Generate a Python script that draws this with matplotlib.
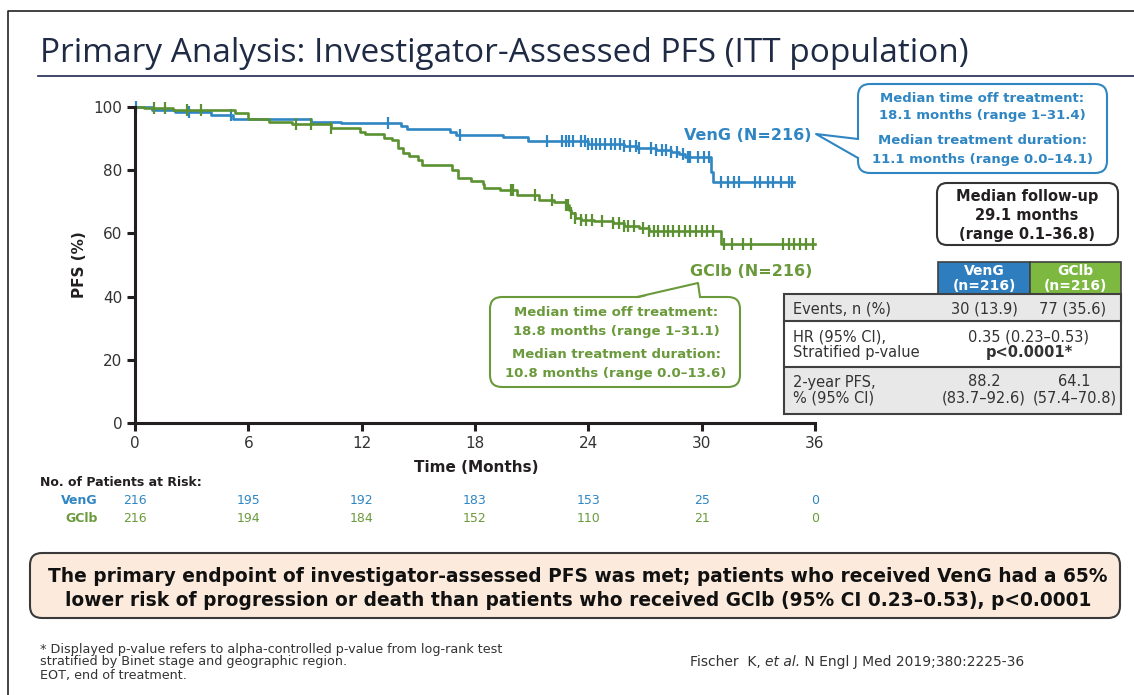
import numpy as np
import matplotlib.pyplot as plt
from matplotlib.patches import FancyBboxPatch, Rectangle, Polygon
from matplotlib.transforms import blended_transform_factory

plt.rcParams['font.family'] = ['DejaVu Sans']

W, H = 1134, 695

# --- KM steps (months, PFS %) ---
veng_t = [0, 0.9, 2.1, 4.0, 5.2, 9.3, 10.9, 14.1, 14.4, 16.7, 17.0, 19.5, 20.8,
          24.0, 25.9, 26.6, 27.6, 28.4, 28.8, 29.1, 30.5, 30.6]
veng_s = [100, 98.9, 98.2, 97.3, 96.1, 95.2, 94.7, 94.0, 92.9, 92.1, 91.0, 90.3, 89.2,
          88.1, 87.6, 87.0, 86.4, 85.8, 85.0, 84.2, 79.4, 76.1]
veng_end = 34.9
veng_cens = [0.05, 2.85, 5.1, 13.4, 17.2, 21.8, 22.6, 22.8, 23.0, 23.2, 23.6, 23.8,
             24.0, 24.2, 24.4, 24.6, 24.9, 25.2, 25.4, 25.7, 25.9, 26.2, 26.5, 26.7,
             27.3, 27.6, 27.9, 28.1, 28.4, 28.7, 29.0, 29.3, 29.4, 29.8, 30.1, 30.4,
             31.0, 31.4, 31.7, 32.0, 32.8, 33.1, 33.5, 33.8, 34.2, 34.6, 34.8]

gclb_t = [0, 0.5, 2.0, 5.3, 6.0, 7.1, 8.3, 10.4, 11.9, 12.2, 13.2, 13.6, 13.9, 14.2,
          14.5, 15.0, 15.2, 16.8, 17.1, 17.8, 18.4, 18.5, 19.3, 20.2, 21.4, 22.2,
          22.8, 23.0, 23.1, 23.3, 23.6, 24.3, 25.3, 25.9, 26.7, 27.2, 31.0]
gclb_s = [100, 99.5, 98.9, 97.9, 96.1, 95.2, 94.4, 93.3, 92.1, 91.3, 90.2, 89.5, 87.0,
          85.3, 84.4, 83.1, 81.6, 79.9, 77.6, 76.5, 75.5, 74.4, 73.7, 72.1, 70.5, 69.8,
          68.9, 67.4, 66.3, 64.9, 64.2, 63.9, 63.2, 62.4, 61.6, 60.7, 56.6]
gclb_end = 36.0
gclb_cens = [1.0, 1.6, 2.75, 3.5, 8.5, 9.3, 10.4, 19.9, 20.0, 21.2, 22.1, 22.8, 22.9,
             23.1, 23.3, 23.6, 23.9, 24.2, 24.7, 25.3, 25.6, 25.9, 26.1, 26.4, 26.9,
             27.2, 27.5, 27.7, 28.0, 28.2, 28.5, 28.8, 29.1, 29.4, 29.7, 30.0, 30.3,
             30.6, 31.2, 31.6, 32.2, 32.6, 34.3, 34.6, 34.9, 35.2, 35.5, 35.9]

risk_times = [0, 6, 12, 18, 24, 30, 36]
risk_veng = [216, 195, 192, 183, 153, 25, 0]
risk_gclb = [216, 194, 184, 152, 110, 21, 0]

BLUE = '#2F86C3'
GREEN = '#5B9130'
GTXT = '#6A9A3B'
DARK = '#231F20'


def step_value(times, surv, t):
    i = np.searchsorted(times, t, side='right') - 1
    return np.asarray(surv)[i]


fig = plt.figure(figsize=(W / 100, H / 100), dpi=100)

ax = fig.add_axes([135 / W, 1 - 423.3 / H, 680 / W, 316.6 / H], zorder=1)
for t, s, end, cens, col in [(veng_t, veng_s, veng_end, veng_cens, BLUE),
                             (gclb_t, gclb_s, gclb_end, gclb_cens, GREEN)]:
    ax.step(t + [end], s + [s[-1]], where='post', color=col, lw=1.9, clip_on=False)
    ax.plot(cens, step_value(t, s, cens), ls='none', marker='|', ms=8, mew=1.6,
            color=col, clip_on=False)

ax.set_xlim(0, 36)
ax.set_ylim(0, 100)
ax.set_xticks(risk_times)
ax.set_yticks(range(0, 101, 20))
for side in ['top', 'right']:
    ax.spines[side].set_visible(False)
for side in ['left', 'bottom']:
    ax.spines[side].set_linewidth(2.2)
    ax.spines[side].set_color(DARK)
ax.tick_params(length=6, width=2.2, color=DARK, labelsize=11, labelcolor='#333333', pad=3)
ax.patch.set_visible(False)

# overlay in pixel units for the slide decorations
ov = fig.add_axes([0, 0, 1, 1], zorder=3)
ov.set_xlim(0, W)
ov.set_ylim(H, 0)
ov.axis('off')

ov.plot([8, 8, W], [H, 11, 11], color='#222222', lw=1.2)
ov.plot([38, W], [76, 76], color='#1F2A50', lw=1.2)
ov.text(40, 62, 'Primary Analysis: Investigator-Assessed PFS (ITT population)',
        family=['Open Sans', 'DejaVu Sans'], fontsize=24, color='#1F2A44', va='baseline')

ov.text(80, 265, 'PFS (%)', rotation=90, fontsize=11, fontweight='bold', color=DARK,
        ha='center', va='center')
ov.text(476, 467, 'Time (Months)', fontsize=11, fontweight='bold', color=DARK,
        ha='center', va='center')

# curve labels
ov.text(812, 135, 'VenG (N=216)', fontsize=11.5, fontweight='bold', color=BLUE,
        ha='right', va='center')
ov.text(812, 272, 'GClb (N=216)', fontsize=11.5, fontweight='bold', color=GTXT,
        ha='right', va='center')

# blue callout
ov.add_patch(FancyBboxPatch((858, 84), 249, 89, boxstyle='round,pad=0,rounding_size=12',
                            fc='white', ec=BLUE, lw=1.5))
ov.add_patch(Polygon([(859.5, 139), (816, 134), (859.5, 158)], fc='white', ec='none'))
ov.plot([858, 816, 858], [139, 134, 158], color=BLUE, lw=1.5)
for y, s in [(98, 'Median time off treatment:'), (116, '18.1 months (range 1–31.4)'),
             (141, 'Median treatment duration:'), (159, '11.1 months (range 0.0–14.1)')]:
    ov.text(982, y, s, fontsize=9.5, fontweight='bold', color=BLUE, ha='center', va='center')

# green callout
ov.add_patch(FancyBboxPatch((490, 297), 250, 90, boxstyle='round,pad=0,rounding_size=12',
                            fc='white', ec=GTXT, lw=1.5))
ov.add_patch(Polygon([(637, 298.5), (698, 283), (700, 298.5)], fc='white', ec='none'))
ov.plot([637, 698, 700], [297, 283, 297], color=GTXT, lw=1.5)
for y, s in [(313, 'Median time off treatment:'), (332, '18.8 months (range 1–31.1)'),
             (355, 'Median treatment duration:'), (373, '10.8 months (range 0.0–13.6)')]:
    ov.text(616, y, s, fontsize=9.5, fontweight='bold', color=GTXT, ha='center', va='center')

# median follow-up
ov.add_patch(FancyBboxPatch((937, 183), 181, 62, boxstyle='round,pad=0,rounding_size=10',
                            fc='white', ec='#333333', lw=1.5))
for y, s in [(197, 'Median follow-up'), (215, '29.1 months'), (235, '(range 0.1–36.8)')]:
    ov.text(1027, y, s, fontsize=10.5, fontweight='bold', color=DARK, ha='center', va='center')

# results table
ov.add_patch(Rectangle((938, 262), 92, 32, fc='#2E7EBF', ec='#404040', lw=1.2))
ov.add_patch(Rectangle((1030, 262), 91, 32, fc='#7DB941', ec='#404040', lw=1.2))
for x, name in [(984, 'VenG'), (1075, 'GClb')]:
    ov.text(x, 271, name, fontsize=10, fontweight='bold', color='white', ha='center', va='center')
    ov.text(x, 286, '(n=216)', fontsize=10, fontweight='bold', color='white', ha='center', va='center')
ov.add_patch(Rectangle((784, 294), 337, 27, fc='#E8E8E8', ec='none'))
ov.add_patch(Rectangle((784, 367), 337, 47, fc='#E8E8E8', ec='none'))
ov.add_patch(Rectangle((784, 294), 337, 120, fc='none', ec='#404040', lw=1.5))
ov.plot([784, 1121], [321, 321], color='#404040', lw=1.5)
ov.plot([784, 1121], [367, 367], color='#404040', lw=1.5)
tkw = dict(fontsize=10.5, color='#333333', va='center')
ov.text(793, 309, 'Events, n (%)', **tkw)
ov.text(984, 309, '30 (13.9)', ha='center', **tkw)
ov.text(1073, 309, '77 (35.6)', ha='center', **tkw)
ov.text(793, 337, 'HR (95% CI),', **tkw)
ov.text(793, 352, 'Stratified p-value', **tkw)
ov.text(1029, 337, '0.35 (0.23–0.53)', ha='center', **tkw)
ov.text(1029, 352, 'p<0.0001*', ha='center', fontweight='bold', **tkw)
ov.text(793, 382, '2-year PFS,', **tkw)
ov.text(793, 398, '% (95% CI)', **tkw)
ov.text(984, 382, '88.2', ha='center', **tkw)
ov.text(984, 398, '(83.7–92.6)', ha='center', **tkw)
ov.text(1074, 382, '64.1', ha='center', **tkw)
ov.text(1075, 398, '(57.4–70.8)', ha='center', **tkw)

# patients at risk
ov.text(40, 483, 'No. of Patients at Risk:', fontsize=9, fontweight='bold', color=DARK, va='center')
ov.text(98, 500, 'VenG', fontsize=9, fontweight='bold', color=BLUE, ha='right', va='center')
ov.text(98, 519, 'GClb', fontsize=9, fontweight='bold', color=GTXT, ha='right', va='center')
tr = blended_transform_factory(ax.transData, ov.transData)
for t, v, g in zip(risk_times, risk_veng, risk_gclb):
    ov.text(t, 500, str(v), transform=tr, fontsize=9, color=BLUE, ha='center', va='center')
    ov.text(t, 519, str(g), transform=tr, fontsize=9, color=GTXT, ha='center', va='center')

# conclusion box
ov.add_patch(FancyBboxPatch((30, 553), 1090, 65, boxstyle='round,pad=0,rounding_size=12',
                            fc='#FCEBDC', ec='#3A3A3A', lw=1.5))
ov.text(578, 576, 'The primary endpoint of investigator-assessed PFS was met; patients who received VenG had a 65%',
        fontsize=13.4, fontweight='bold', color='#111111', ha='center', va='center')
ov.text(578, 601, 'lower risk of progression or death than patients who received GClb (95% CI 0.23–0.53), p<0.0001',
        fontsize=13.4, fontweight='bold', color='#111111', ha='center', va='center')

# footnotes
fkw = dict(fontsize=9.2, color='#333333', va='center')
ov.text(40, 649, '* Displayed p-value refers to alpha-controlled p-value from log-rank test', **fkw)
ov.text(40, 662, 'stratified by Binet stage and geographic region.', **fkw)
ov.text(40, 675, 'EOT, end of treatment.', **fkw)
ckw = dict(fontsize=10, color='#333333', va='center')
t1 = ov.text(690, 662, 'Fischer  K, ', **ckw)
fig.canvas.draw()
bb = t1.get_window_extent()
t2 = ov.text(bb.x1, H - 662, 'et al.', transform=None, fontstyle='italic', **ckw)
bb2 = t2.get_window_extent()
ov.text(bb2.x1, H - 662, ' N Engl J Med 2019;380:2225-36', transform=None, **ckw)

fig.savefig('out.png', dpi=100)
